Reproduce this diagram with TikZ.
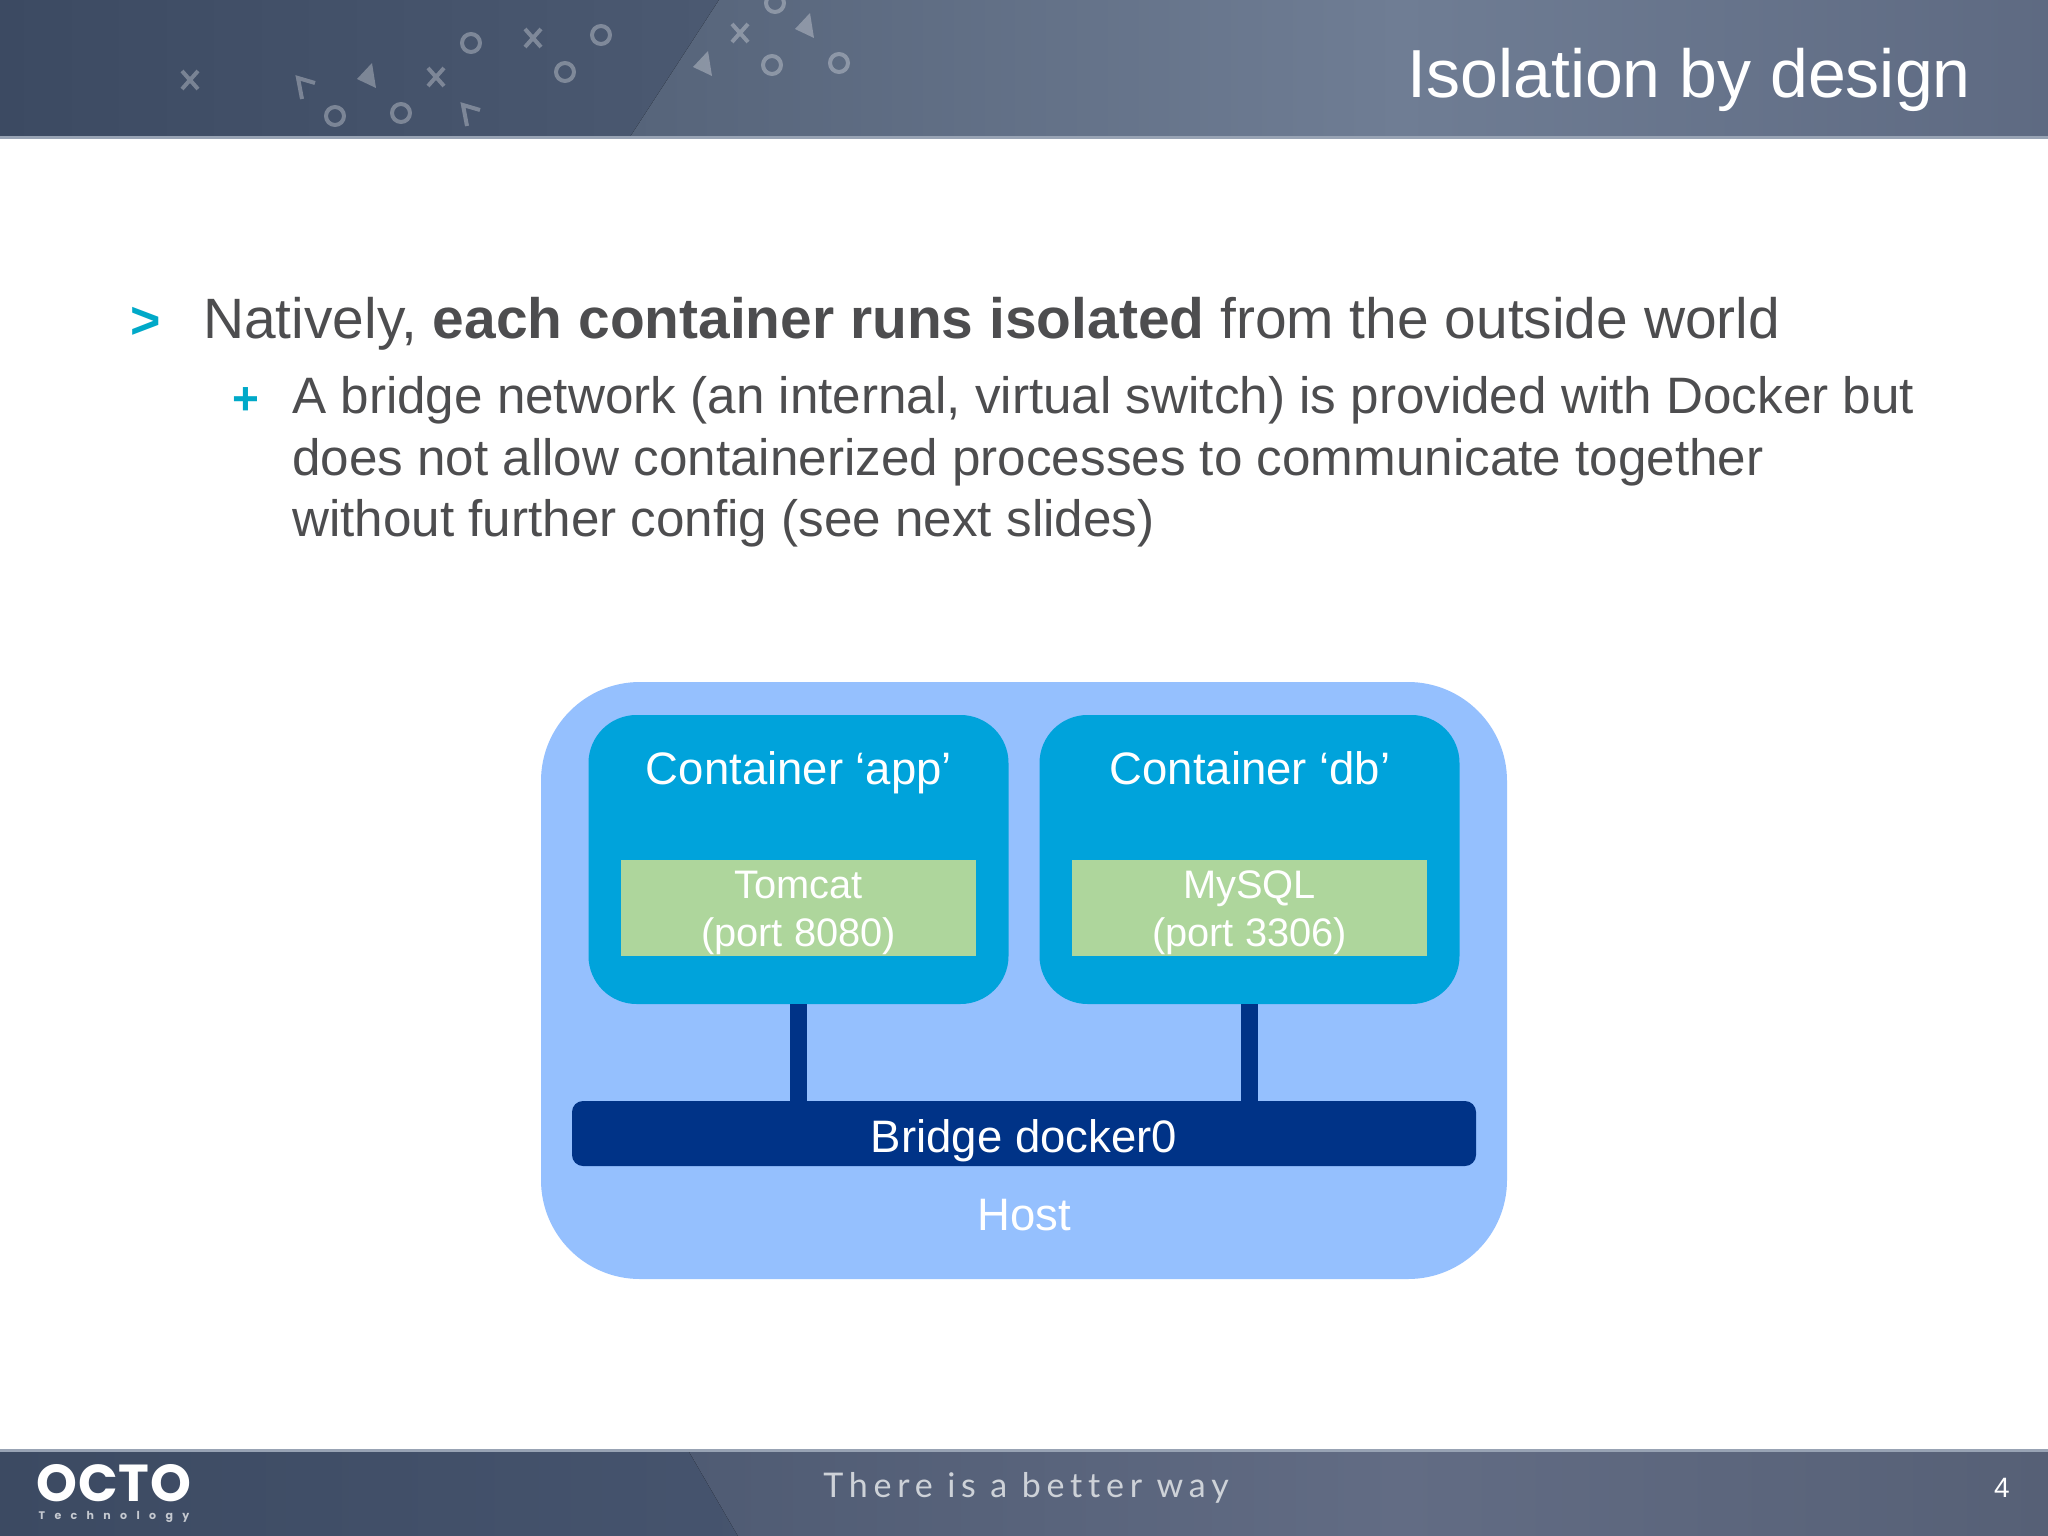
\documentclass[tikz,border=0pt]{standalone}
\usepackage{fontspec}
\setmainfont{Liberation Sans}
\newfontfamily\logofont[LetterSpace=2]{Poppins}
\newfontfamily\logosubfont[LetterSpace=85]{Poppins}
\newfontfamily\tagfont[LetterSpace=17,Ligatures=NoCommon]{Lato}
\definecolor{hostblue}{HTML}{95C0FE}
\definecolor{contblue}{HTML}{00A3DB}
\definecolor{svcgreen}{HTML}{AED69C}
\definecolor{bridgeblue}{HTML}{003387}
\definecolor{bodygrey}{HTML}{4D4D4F}
\definecolor{bulletcyan}{HTML}{00A9C8}
\definecolor{banddark}{HTML}{3C4A62}
\definecolor{bandmid}{HTML}{4C5A72}
\definecolor{bandlight}{HTML}{6F7D94}
\definecolor{bandedge}{HTML}{56647A}
\definecolor{bandend}{HTML}{5E6A82}
\definecolor{footmid}{HTML}{46546E}
\definecolor{footedge}{HTML}{4F5B73}
\definecolor{footlight}{HTML}{626C84}
\definecolor{footend}{HTML}{566076}
\definecolor{bandline}{HTML}{98A3B4}
\tikzset{
  every node/.style={text=white, inner sep=0pt},
  txt/.style 2 args={font=\fontsize{#1}{#2}\selectfont},
  hostbox/.style={rectangle, rounded corners=99pt, fill=hostblue, minimum width=966pt, minimum height=597pt},
  contbox/.style={rectangle, rounded corners=48pt, fill=contblue, minimum width=420pt, minimum height=289pt},
  svcbox/.style={rectangle, fill=svcgreen, minimum width=355pt, minimum height=96pt, align=center, txt={39.8}{47.8}},
  bridgebox/.style={rectangle, rounded corners=11pt, fill=bridgeblue, minimum width=904pt, minimum height=65pt, text height=37.5pt, text depth=0pt, txt={45.5}{54.6}},
  boxtitle/.style={txt={45.5}{54.6}, anchor=base},
  link/.style={draw=bridgeblue, line width=17pt},
  hdrmark/.style={draw=white, draw opacity=.3, line width=4pt},
  body/.style={text=bodygrey, align=left}
}
\begin{document}
\begin{tikzpicture}[x=1pt,y=-1pt]
  \useasboundingbox (0,0) rectangle (2048,1536);
  \fill[white] (0,0) rectangle (2048,1536);
  % header band
  \fill[left color=banddark, right color=bandmid] (0,0) rectangle (760,137);
  \fill[left color=bandedge, right color=bandlight] (719,0) -- (1400,0) -- (1400,137) -- (630,137) -- cycle;
  \fill[left color=bandlight, right color=bandend] (1400,0) rectangle (2048,137);
  \fill[color=bandline] (0,136.5) rectangle (2048,139);
  % marks of the header
  \foreach \cx/\cy in {190/80,533/38,436/77,740/33}
    \draw[hdrmark] (\cx-8,\cy-9) -- (\cx+8,\cy+9) (\cx+8,\cy-9) -- (\cx-8,\cy+9);
  \foreach \cx/\cy in {471/43,601/35,565/72,335/116,401/113,772/65,839/63,775/3}
    \draw[hdrmark] (\cx,\cy) circle (9);
  \foreach \cx/\cy in {367/77,805/27,703/65}
    \fill[white, fill opacity=.3] (\cx+5,\cy-14) -- (\cx+9,\cy+11) -- (\cx-10,\cy+2) -- cycle;
  \foreach \cx/\cy in {305/85,470/112}
    \draw[hdrmark] (\cx-3,\cy+14) -- (\cx-7,\cy-7) -- (\cx+10,\cy-2);
  \node (heading) at (1971,98) [anchor=base east, txt={68}{82}] {Isolation by design};
  % footer band
  \fill[left color=banddark, right color=footmid] (0,1450) rectangle (760,1536);
  \fill[left color=footedge, right color=footlight] (688,1450) -- (1400,1450) -- (1400,1536) -- (738,1536) -- cycle;
  \fill[left color=footlight, right color=footend] (1400,1450) rectangle (2048,1536);
  \fill[color=bandline] (0,1449) rectangle (2048,1452);
  \node (logo) at (114,1501) [anchor=base, font=\logofont\bfseries\fontsize{52}{56}\selectfont] {OCTO};
  \node (logosub) at (114,1519) [anchor=base, text=white!70!banddark, font=\logosubfont\bfseries\fontsize{11}{12}\selectfont] {Technology};
  \node (tagline) at (1026,1497) [anchor=base, text=white!75!banddark, font=\tagfont\fontsize{34}{40}\selectfont] {There is a better way};
  \node (pagenum) at (2002,1497) [anchor=base, txt={28}{34}] {4};
  % text of the slide
  \node (arrow) at (146,338) [anchor=base, text=bulletcyan, font=\bfseries\fontsize{52}{60}\selectfont] {>};
  \node (point) at (203,338) [anchor=base west, text=bodygrey, txt={56.9}{68}] {Natively, \textbf{each container runs isolated} from the outside world};
  \node (plus) at (246,414) [anchor=base, text=bulletcyan, font=\bfseries\fontsize{46}{55}\selectfont] {+};
  \node (subpoint) at (292,376.5) [anchor=north west, body, txt={51.2}{61.4}] {A bridge network (an internal, virtual switch) is provided with Docker but\\does not allow containerized processes to communicate together\\without further config (see next slides)};
  % the diagram
  \node (host) at (1024,980.5) [hostbox] {};
  \node (app) at (798.5,859.5) [contbox] {};
  \node (db) at (1249.5,859.5) [contbox] {};
  \node (apptitle) at (799,784) [boxtitle] {Container ‘app’};
  \node (dbtitle) at (1250,784) [boxtitle] {Container ‘db’};
  \node (tomcat) at (798.5,908) [svcbox] {\rule{0pt}{38pt}Tomcat\\(port 8080)};
  \node (mysql) at (1249.5,908) [svcbox] {\rule{0pt}{38pt}MySQL\\(port 3306)};
  \node (bridge) at (1024,1133.5) [bridgebox] {Bridge docker0};
  \node (hosttitle) at (1024,1230) [boxtitle] {Host};
  \draw[link] (app.south) -- (app.south |- bridge.north);
  \draw[link] (db.south) -- (db.south |- bridge.north);
\end{tikzpicture}
\end{document}
